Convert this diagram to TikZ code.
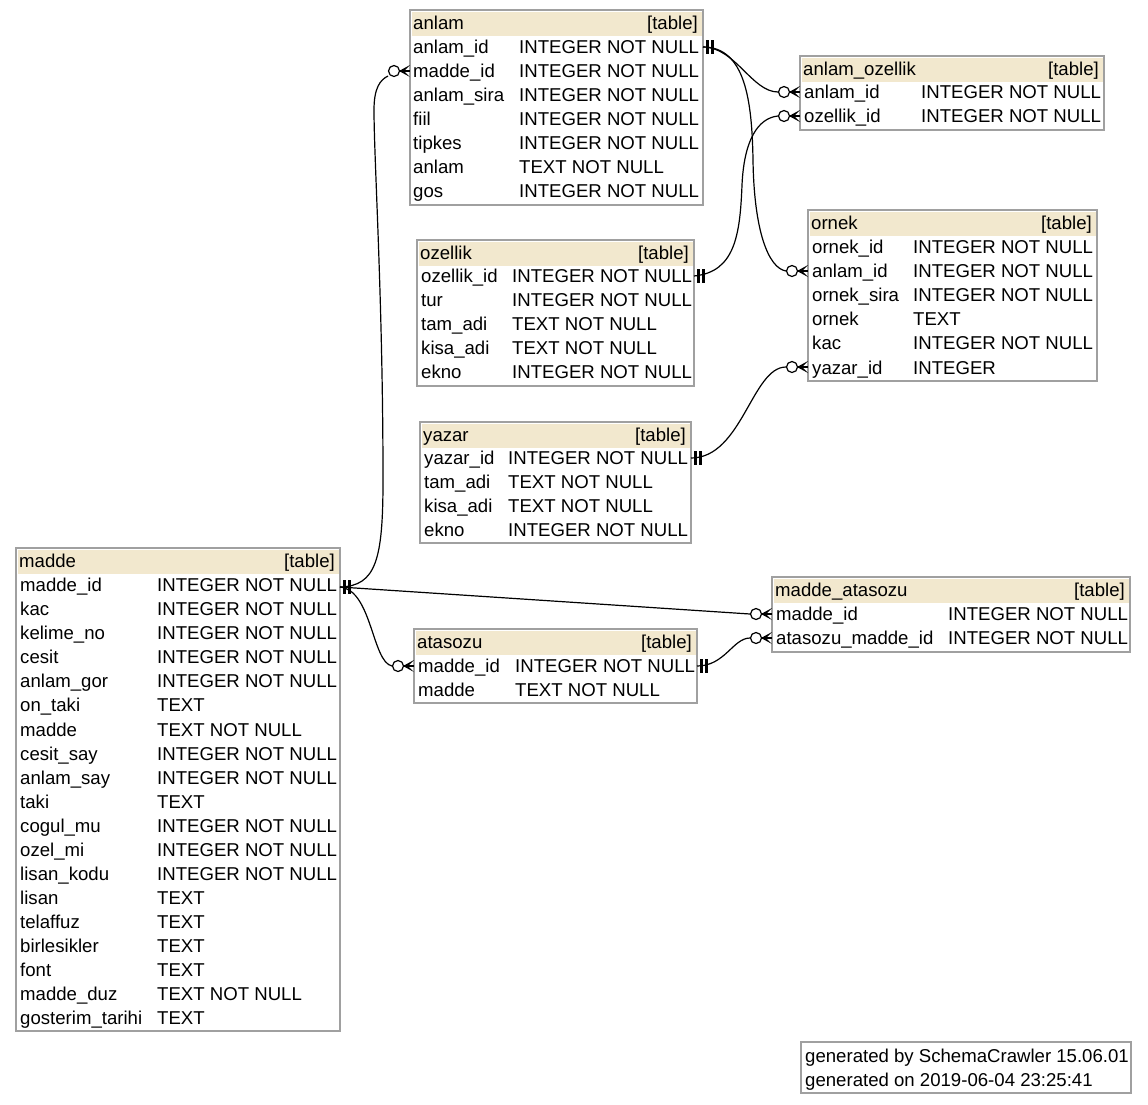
\documentclass[tikz,border=0pt]{standalone}
\usepackage{fontspec}
\setmainfont{Liberation Sans}
\definecolor{hdr}{RGB}{242,232,206}
\definecolor{bord}{RGB}{160,160,160}
\newcommand{\erfont}{\fontsize{18.6pt}{22pt}\selectfont}
\tikzset{
  tborder/.style={draw=bord, line width=1.3pt},
  txt/.style={anchor=base west, inner sep=0pt, font=\erfont},
  txtr/.style={anchor=base east, inner sep=0pt, font=\erfont},
  conn/.style={line width=1.2pt, black},
  bars/.style={line width=3pt, black},
}
\newcommand{\ertable}[6]{%
  \fill[hdr] (#2+2,#3+2) rectangle (#4-1,#3+26);
  \draw[tborder] (#2,#3) rectangle (#4,#5);
  \node[txt] (#1-title) at (#2+3,#3+19) {#6};
  \node[txtr] (#1-tag) at (#4-5,#3+19) {[table]};
}
\newcommand{\erfld}[6]{%
  \node[txt] (#1-n) at (#2,#4+6.5) {#5};
  \node[txt] (#1-t) at (#3,#4+6.5) {#6};
}
\newcommand{\manyend}[3]{%
  \coordinate (#1) at (#2,#3);
  \coordinate (#1-c) at (#2-21,#3);
  \draw[conn] (#2-11,#3) -- (#1);
  \fill[black] (#2-11,#3) -- (#2,#3-6) -- (#2-6,#3) -- (#2,#3+6) -- cycle;
  \draw[conn, fill=white] (#2-16,#3) circle (5.5pt);
}
\newcommand{\oneend}[3]{%
  \coordinate (#1) at (#2,#3);
  \draw[bars] (#2+4,#3-7) -- (#2+4,#3+7) (#2+9,#3-7) -- (#2+9,#3+7);
}
\begin{document}
\begin{tikzpicture}[x=1pt, y=-1pt]
\useasboundingbox (0,0) rectangle (1148,1104);
\fill[white] (0,0) rectangle (1148,1104);

% ---------- anlam
\ertable{anlam}{410}{10}{703}{205}{anlam}
\erfld{an1}{413}{519}{47}{anlam\_id}{INTEGER NOT NULL}
\erfld{an2}{413}{519}{71}{madde\_id}{INTEGER NOT NULL}
\erfld{an3}{413}{519}{95}{anlam\_sira}{INTEGER NOT NULL}
\erfld{an4}{413}{519}{119}{fiil}{INTEGER NOT NULL}
\erfld{an5}{413}{519}{143}{tipkes}{INTEGER NOT NULL}
\erfld{an6}{413}{519}{167}{anlam}{TEXT NOT NULL}
\erfld{an7}{413}{519}{191}{gos}{INTEGER NOT NULL}

% ---------- anlam_ozellik
\ertable{anoz}{800}{56}{1104}{130}{anlam\_ozellik}
\erfld{ao1}{804}{921}{92}{anlam\_id}{INTEGER NOT NULL}
\erfld{ao2}{804}{921}{116}{ozellik\_id}{INTEGER NOT NULL}

% ---------- ozellik
\ertable{ozellik}{417}{240}{694}{386}{ozellik}
\erfld{oz1}{421}{512}{276}{ozellik\_id}{INTEGER NOT NULL}
\erfld{oz2}{421}{512}{300}{tur}{INTEGER NOT NULL}
\erfld{oz3}{421}{512}{324}{tam\_adi}{TEXT NOT NULL}
\erfld{oz4}{421}{512}{348}{kisa\_adi}{TEXT NOT NULL}
\erfld{oz5}{421}{512}{372}{ekno}{INTEGER NOT NULL}

% ---------- ornek
\ertable{ornek}{808}{210}{1097}{381}{ornek}
\erfld{or1}{812}{913}{246.5}{ornek\_id}{INTEGER NOT NULL}
\erfld{or2}{812}{913}{270.7}{anlam\_id}{INTEGER NOT NULL}
\erfld{or3}{812}{913}{294.9}{ornek\_sira}{INTEGER NOT NULL}
\erfld{or4}{812}{913}{319.1}{ornek}{TEXT}
\erfld{or5}{812}{913}{343.3}{kac}{INTEGER NOT NULL}
\erfld{or6}{812}{913}{367.5}{yazar\_id}{INTEGER}

% ---------- yazar
\ertable{yazar}{420}{422}{691}{543}{yazar}
\erfld{ya1}{424}{508}{458}{yazar\_id}{INTEGER NOT NULL}
\erfld{ya2}{424}{508}{482}{tam\_adi}{TEXT NOT NULL}
\erfld{ya3}{424}{508}{506}{kisa\_adi}{TEXT NOT NULL}
\erfld{ya4}{424}{508}{530}{ekno}{INTEGER NOT NULL}

% ---------- madde
\ertable{madde}{16}{548}{340}{1031}{madde}
\erfld{ma1}{20}{157}{585}{madde\_id}{INTEGER NOT NULL}
\erfld{ma2}{20}{157}{609.1}{kac}{INTEGER NOT NULL}
\erfld{ma3}{20}{157}{633.2}{kelime\_no}{INTEGER NOT NULL}
\erfld{ma4}{20}{157}{657.2}{cesit}{INTEGER NOT NULL}
\erfld{ma5}{20}{157}{681.3}{anlam\_gor}{INTEGER NOT NULL}
\erfld{ma6}{20}{157}{705.4}{on\_taki}{TEXT}
\erfld{ma7}{20}{157}{729.5}{madde}{TEXT NOT NULL}
\erfld{ma8}{20}{157}{753.6}{cesit\_say}{INTEGER NOT NULL}
\erfld{ma9}{20}{157}{777.6}{anlam\_say}{INTEGER NOT NULL}
\erfld{ma10}{20}{157}{801.7}{taki}{TEXT}
\erfld{ma11}{20}{157}{825.8}{cogul\_mu}{INTEGER NOT NULL}
\erfld{ma12}{20}{157}{849.9}{ozel\_mi}{INTEGER NOT NULL}
\erfld{ma13}{20}{157}{874.0}{lisan\_kodu}{INTEGER NOT NULL}
\erfld{ma14}{20}{157}{898.0}{lisan}{TEXT}
\erfld{ma15}{20}{157}{922.1}{telaffuz}{TEXT}
\erfld{ma16}{20}{157}{946.2}{birlesikler}{TEXT}
\erfld{ma17}{20}{157}{970.3}{font}{TEXT}
\erfld{ma18}{20}{157}{994.4}{madde\_duz}{TEXT NOT NULL}
\erfld{ma19}{20}{157}{1018.4}{gosterim\_tarihi}{TEXT}

% ---------- madde_atasozu
\ertable{mata}{772}{577}{1130}{652}{madde\_atasozu}
\erfld{mt1}{776}{948}{614}{madde\_id}{INTEGER NOT NULL}
\erfld{mt2}{776}{948}{638}{atasozu\_madde\_id}{INTEGER NOT NULL}

% ---------- atasozu
\ertable{atasozu}{414}{629}{697}{703}{atasozu}
\erfld{at1}{418}{515}{666}{madde\_id}{INTEGER NOT NULL}
\erfld{at2}{418}{515}{690}{madde}{TEXT NOT NULL}

% ---------- footer
\draw[tborder] (801,1042) rectangle (1131,1093);
\node[txt] (foot1) at (805,1062.5) {generated by SchemaCrawler 15.06.01};
\node[txt] (foot2) at (805,1086.5) {generated on 2019-06-04 23:25:41};

% ---------- connectors
\oneend{maddeR}{340}{587}
\oneend{anlamR}{703}{47}
\oneend{ozellikR}{694}{276}
\oneend{yazarR}{691}{458}
\oneend{atasozuR}{697}{666}

% madde -> anlam.madde_id
\draw[conn] (maddeR) .. controls (376,586) and (383,560) .. (383,480)
  .. controls (383,300) and (374,160) .. (374,110)
  .. controls (374,88) and (380,80) .. (388,76);
% anlam -> anlam_ozellik.anlam_id
\draw[conn] (anlamR) .. controls (735,47) and (752,92) .. (778,92);
% anlam -> ornek.anlam_id
\draw[conn] (anlamR) .. controls (745,47) and (752,100) .. (753,160)
  .. controls (754,230) and (768,268) .. (786,271);
% ozellik -> anlam_ozellik.ozellik_id
\draw[conn] (ozellikR) .. controls (735,272) and (740,235) .. (742,185)
  .. controls (744,140) and (758,118) .. (778,116);
% yazar -> ornek.yazar_id
\draw[conn] (yazarR) .. controls (742,458) and (752,367) .. (786,367);
% madde -> madde_atasozu.madde_id
\draw[conn] (maddeR) -- (750,614);
% madde -> atasozu.madde_id
\draw[conn] (maddeR) .. controls (372,590) and (372,662) .. (392,666);
% atasozu -> madde_atasozu.atasozu_madde_id
\draw[conn] (atasozuR) .. controls (725,666) and (733,638) .. (750,638);

\manyend{anlamMaddeW}{410}{71}
\manyend{aoAnlamW}{800}{92}
\manyend{aoOzW}{800}{116}
\manyend{ornekAnlamW}{808}{271}
\manyend{ornekYazarW}{808}{367}
\manyend{mataMaddeW}{772}{614}
\manyend{mataAtaW}{772}{638}
\manyend{atasozuMaddeW}{414}{666}
\end{tikzpicture}
\end{document}
